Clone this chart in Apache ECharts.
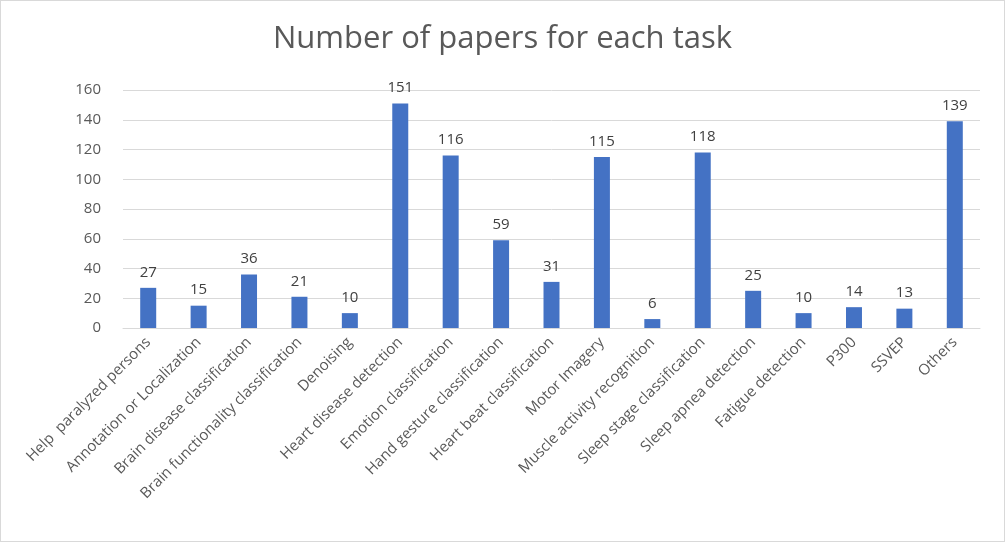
<!DOCTYPE html>
<html><head><meta charset="utf-8">
<script src="https://cdn.jsdelivr.net/npm/echarts@6/dist/echarts.min.js"></script>
<style>html,body{margin:0;padding:0;background:#fff}#c{width:1003px;height:540px;border:1px solid #d9d9d9}</style>
</head><body><div id="c"></div>
<script>
const categories=["Help  paralyzed persons","Annotation or Localization","Brain disease classification","Brain functionality classification","Denoising","Heart disease detection","Emotion classification","Hand gesture classification","Heart beat classification","Motor Imagery","Muscle activity recognition","Sleep stage classification","Sleep apnea detection","Fatigue detection","P300","SSVEP","Others"];
const values=[27,15,36,21,10,151,116,59,31,115,6,118,25,10,14,13,139];
const yTicks=[0,20,40,60,80,100,120,140,160];
const chart=echarts.init(document.getElementById('c'));
chart.setOption({
 title:{text:'Number of papers for each task',left:'center',top:18,textStyle:{fontFamily:'Open Sans, Calibri, sans-serif',fontSize:31,fontWeight:'normal',color:'#595959'}},
 grid:{left:122,right:24,top:89,bottom:213},
 xAxis:{type:'category',data:categories,axisTick:{show:false},axisLine:{lineStyle:{color:'#d9d9d9'}},
   axisLabel:{rotate:45,interval:0,color:'#595959',fontSize:15,fontFamily:'Open Sans, sans-serif',margin:12}},
 yAxis:{type:'value',min:yTicks[0],max:yTicks[yTicks.length-1],interval:20,axisLine:{show:false},axisTick:{show:false},
   axisLabel:{color:'#595959',fontSize:15,fontFamily:'Open Sans, sans-serif',margin:22},splitLine:{lineStyle:{color:'#d9d9d9'}}},
 series:[{type:'bar',data:values,barWidth:16,itemStyle:{color:'#4472c4'},
   label:{show:true,position:'top',distance:8,color:'#404040',fontSize:15,fontFamily:'Open Sans, sans-serif'}}]
});
</script></body></html>
